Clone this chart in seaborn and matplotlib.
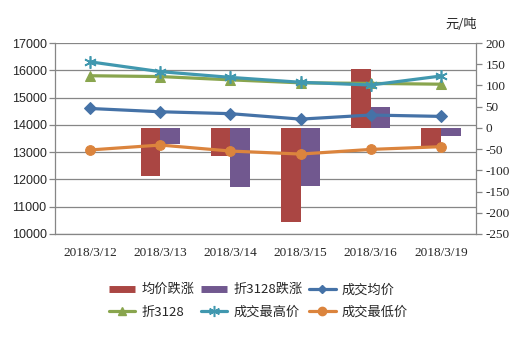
import numpy as np
import pandas as pd
import matplotlib
matplotlib.use("Agg")
import matplotlib.pyplot as plt
from matplotlib.lines import Line2D
import seaborn as sns

# ---------------- data ----------------
dates = ['2018/3/12', '2018/3/13', '2018/3/14', '2018/3/15', '2018/3/16', '2018/3/19']
avg_change = [0, -113, -66, -222, 138, -42]          # 均价跌涨 (right axis)
zhe_change = [0, -39, -140, -136, 49, -19]           # 折3128跌涨 (right axis)
avg_price = [14600, 14480, 14410, 14210, 14360, 14310]   # 成交均价
zhe3128 = [15800, 15770, 15650, 15540, 15520, 15490]     # 折3128
high_price = [16310, 15950, 15740, 15560, 15460, 15790]  # 成交最高价
low_price = [13080, 13260, 13040, 12930, 13100, 13200]   # 成交最低价

bar_names = ['均价跌涨', '折3128跌涨']
line_names = ['成交均价', '折3128', '成交最高价', '成交最低价']
left_ticks = list(range(10000, 17001, 1000))
right_ticks = list(range(-250, 201, 50))
unit_label = '元/吨'

# ---------------- style ----------------
sns.set_style("white")
plt.rcParams['font.family'] = ['Noto Sans CJK SC', 'DejaVu Sans']
plt.rcParams['axes.unicode_minus'] = False

RED = '#AA4643'
PURPLE = '#71588F'
BLUE = '#4572A7'
GREEN = '#89A54E'
TEAL = '#4198AF'
ORANGE = '#DB843D'
GRAY = '#868686'
cjk = ['Noto Sans CJK SC', 'DejaVu Sans']

fig = plt.figure(figsize=(5.23, 3.38), dpi=100)
rect = [55 / 523, 1 - 234 / 338, 421 / 523, 191 / 338]
ax_base = fig.add_axes(rect)
ax_bar = ax_base.twinx()
ax_line = ax_base.twinx()

x = np.arange(len(dates))

# bars on secondary scale
bar_df = pd.DataFrame({
    'date': dates * 2,
    'series': [bar_names[0]] * len(dates) + [bar_names[1]] * len(dates),
    'value': avg_change + zhe_change,
})
sns.barplot(data=bar_df, x='date', y='value', hue='series', palette=[RED, PURPLE],
            ax=ax_bar, width=0.56, errorbar=None, saturation=1, legend=False,
            linewidth=0)

# lines on primary scale (top layer)
line_specs = [
    (avg_price, BLUE, 'D', 6.0, dict(markeredgecolor=BLUE)),
    (zhe3128, GREEN, '^', 7.5, dict(markeredgecolor=GREEN)),
    (high_price, TEAL, (6, 2, 0), 9, dict(markeredgecolor=TEAL, markeredgewidth=1.2)),
    (low_price, ORANGE, 'o', 7.0, dict(markeredgecolor=ORANGE)),
]
for vals, col, mk, ms, kw in line_specs:
    sns.lineplot(x=x, y=vals, ax=ax_line, color=col, marker=mk, markersize=ms,
                 linewidth=2.3, **kw)

# ---------------- axes formatting ----------------
for a in (ax_base, ax_bar, ax_line):
    a.set_xlim(-0.5, len(dates) - 0.5)
    a.set_xlabel('')
    a.set_ylabel('')

ax_base.set_ylim(10000, 17000)
ax_line.set_ylim(10000, 17000)
ax_bar.set_ylim(-250, 200)

ax_base.set_yticks(left_ticks)
ax_base.set_yticklabels([str(t) for t in left_ticks], family='Liberation Sans', fontsize=9)
ax_base.grid(axis='y', color=GRAY, linewidth=0.9)
ax_base.grid(axis='x', visible=False)
ax_base.set_axisbelow(True)

ax_bar.set_yticks(right_ticks)
ax_bar.set_yticklabels([str(t) for t in right_ticks], family='Liberation Serif', fontsize=9.5)
ax_bar.yaxis.tick_right()

ax_line.set_yticks([])
ax_line.yaxis.set_visible(False)

ax_base.set_xticks(x)
ax_base.set_xticklabels(dates, family='Liberation Serif', fontsize=9.5)
ax_base.set_xticks(np.arange(-0.5, len(dates), 1.0), minor=True)
ax_base.tick_params(axis='x', which='major', length=0, pad=9)
ax_base.tick_params(axis='x', which='minor', length=4, color=GRAY, direction='out', width=0.9)
ax_base.tick_params(axis='y', length=4, color=GRAY, direction='out', width=0.9, pad=2, left=True)
ax_bar.tick_params(axis='y', length=4, color=GRAY, direction='out', width=0.9, pad=3, right=True)

for a in (ax_base, ax_bar, ax_line):
    for s in a.spines.values():
        s.set_visible(False)
ax_base.spines['left'].set_visible(True)
ax_base.spines['left'].set_color(GRAY)
ax_base.spines['bottom'].set_visible(True)
ax_base.spines['bottom'].set_color(GRAY)
ax_bar.spines['right'].set_visible(True)
ax_bar.spines['right'].set_color(GRAY)
for s in ('left', 'bottom'):
    ax_base.spines[s].set_linewidth(0.9)
ax_bar.spines['right'].set_linewidth(0.9)

# unit label
fig.text(477 / 523, 1 - 25 / 338, unit_label, ha='right', va='center',
         fontsize=9.5, family=cjk)

# ---------------- legend ----------------
hA = Line2D([], [], color=RED, lw=5, solid_capstyle='butt')
hB = Line2D([], [], color=PURPLE, lw=5, solid_capstyle='butt')
hC = Line2D([], [], color=BLUE, lw=2.3, marker='D', markersize=4.5)
hD = Line2D([], [], color=GREEN, lw=2.3, marker='^', markersize=6)
hE = Line2D([], [], color=TEAL, lw=2.3, marker=(6, 2, 0), markersize=8, markeredgewidth=1.1)
hF = Line2D([], [], color=ORANGE, lw=2.3, marker='o', markersize=6)
names = bar_names + line_names
handles = [hA, hD, hB, hE, hC, hF]
labels = [names[0], names[3], names[1], names[4], names[2], names[5]]
fig.legend(handles, labels, ncol=3, loc='center', bbox_to_anchor=(0.494, 0.11),
           frameon=False, prop={'family': cjk, 'size': 9.5}, handlelength=2.0,
           handletextpad=0.45, columnspacing=0.5, labelspacing=0.7)

fig.savefig('out.png', dpi=100)
